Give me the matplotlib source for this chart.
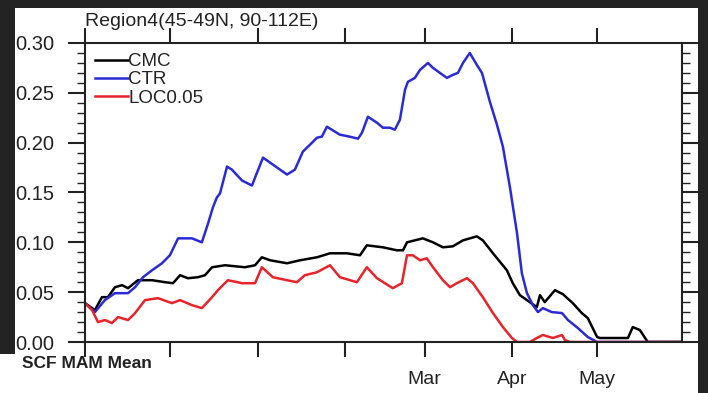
import matplotlib
matplotlib.use("Agg")
import matplotlib.pyplot as plt
from matplotlib.patches import Rectangle
from matplotlib.ticker import MultipleLocator

plt.rcParams["font.family"] = ["Liberation Sans", "DejaVu Sans"]

# days counted from 1 Nov, snow cover fraction
cmc_day = [0, 3.5, 6, 8.1, 10.6, 13.1, 15.2, 18.7, 23.7, 28.3, 31.1, 33.6, 36.4, 39.9,
           42.4, 44.9, 49.5, 56.5, 60.1, 62.5, 65.4, 71.4, 76, 82, 86.6, 92.6, 97.2,
           99.6, 105.3, 110.2, 112.4, 113.8, 119.4, 123, 126.5, 130, 133.6, 138.5,
           140.6, 144.2, 149.1, 151.2, 153.7, 157.2, 159.7, 160.8, 162.5, 166.1,
           168.9, 172.4, 175.6, 177.7, 181, 182, 191.9, 193.6, 196.1, 198.9, 211]
cmc_val = [0.039, 0.032, 0.045, 0.045, 0.055, 0.057, 0.054, 0.062, 0.062, 0.060, 0.059,
           0.067, 0.064, 0.065, 0.067, 0.075, 0.077, 0.075, 0.077, 0.085, 0.082, 0.079,
           0.082, 0.085, 0.089, 0.089, 0.087, 0.097, 0.095, 0.092, 0.092, 0.100, 0.104,
           0.100, 0.095, 0.096, 0.102, 0.106, 0.102, 0.089, 0.072, 0.059, 0.047, 0.040,
           0.035, 0.047, 0.040, 0.052, 0.048, 0.039, 0.029, 0.024, 0.005, 0.004, 0.004,
           0.015, 0.012, 0.0, 0.0]

ctr_day = [0, 3.5, 7, 10.6, 15.2, 17.7, 20.5, 23.7, 27.2, 30, 32.9, 37.8, 41.3, 43.5,
           45.2, 46.6, 47.7, 50.2, 51.9, 55.5, 59, 62.9, 66.4, 71.4, 74.2, 77, 78.8,
           80.6, 82, 83.7, 85.5, 90.1, 93.6, 96.5, 97.9, 100, 103.2, 105.3, 107.8,
           109.5, 111.3, 113.1, 114.1, 116.6, 118.4, 121.2, 123, 127.9, 130, 131.8,
           133.6, 136, 138.5, 140.3, 143.1, 145.6, 147.7, 150.2, 152.7, 154.4, 156.2,
           158.3, 160.1, 161.8, 165, 168.6, 170.7, 174.2, 177.7, 181, 211]
ctr_val = [0.039, 0.030, 0.042, 0.049, 0.049, 0.055, 0.065, 0.072, 0.079, 0.087, 0.104,
           0.104, 0.100, 0.119, 0.135, 0.145, 0.149, 0.176, 0.173, 0.162, 0.157, 0.185,
           0.178, 0.168, 0.173, 0.191, 0.196, 0.201, 0.205, 0.206, 0.216, 0.208, 0.206,
           0.204, 0.210, 0.226, 0.220, 0.215, 0.215, 0.213, 0.223, 0.253, 0.261, 0.265,
           0.273, 0.280, 0.275, 0.265, 0.268, 0.270, 0.280, 0.290, 0.278, 0.270, 0.241,
           0.218, 0.196, 0.155, 0.109, 0.069, 0.049, 0.037, 0.030, 0.034, 0.030, 0.029,
           0.022, 0.014, 0.005, 0.0, 0.0]

loc_day = [0, 2.5, 4.6, 7.1, 9.5, 11.7, 15.2, 17.7, 21.2, 25.8, 30.7, 33.6, 37.8, 41.3,
           44.9, 47, 50.5, 55.5, 60.1, 62.5, 66.4, 71.4, 74.9, 77.7, 82, 86.6, 90.1,
           96.1, 99.6, 103.2, 108.8, 112, 113.8, 115.9, 118.4, 120.8, 123, 126.5, 129,
           131.4, 135, 137.1, 140.6, 144.2, 147.7, 150.9, 152.7, 157.2, 159.7, 161.8,
           165.4, 168.6, 169.6, 171.4, 211]
loc_val = [0.039, 0.032, 0.020, 0.022, 0.019, 0.025, 0.022, 0.029, 0.042, 0.044, 0.039,
           0.042, 0.037, 0.034, 0.045, 0.052, 0.062, 0.059, 0.059, 0.075, 0.065, 0.062,
           0.060, 0.067, 0.070, 0.077, 0.065, 0.060, 0.075, 0.064, 0.054, 0.059, 0.087,
           0.087, 0.082, 0.084, 0.075, 0.062, 0.055, 0.059, 0.064, 0.059, 0.045, 0.029,
           0.015, 0.004, 0.0, 0.0, 0.004, 0.007, 0.004, 0.007, 0.002, 0.0, 0.0]

# first day of each month from Nov to May
month_starts = [0, 30, 61, 92, 120, 151, 181]
month_labels = ["", "", "", "", "Mar", "Apr", "May"]

fig = plt.figure(figsize=(7.08, 3.93), dpi=100, facecolor="white")
ax = fig.add_axes([85 / 708, 1 - 342 / 393, 597 / 708, 299 / 393])

ax.plot(cmc_day, cmc_val, color="black", lw=1.8, label="CMC")
ax.plot(ctr_day, ctr_val, color="#2a2ad6", lw=1.8, label="CTR")
ax.plot(loc_day, loc_val, color="#e8232a", lw=1.8, label="LOC0.05")

ax.set_xlim(0, 211)
ax.set_ylim(0, 0.30)
ax.set_xticks(month_starts)
ax.set_xticklabels(month_labels)
ax.yaxis.set_major_locator(MultipleLocator(0.05))
ax.yaxis.set_minor_locator(MultipleLocator(0.01))
ax.yaxis.set_major_formatter(lambda v, p: f"{v:.2f}")

ax.tick_params(axis="x", which="major", direction="out", top=True, bottom=True,
               length=11, width=1.5, pad=10, labelsize=14, colors="#222222")
ax.tick_params(axis="y", which="major", direction="out", left=True, right=True,
               length=12, width=1.5, pad=10, labelsize=14.5, colors="#222222")
ax.tick_params(axis="y", which="minor", direction="out", left=True, right=True,
               length=6, width=1.0, colors="#222222")
for s in ax.spines.values():
    s.set_linewidth(1.5)
    s.set_color("#222222")

ax.text(0.0, 1.058, "Region4(45-49N, 90-112E)", transform=ax.transAxes,
        ha="left", va="baseline", fontsize=14, color="#222222")

leg = ax.legend(loc="upper left", frameon=False, fontsize=13.5, handlelength=1.75,
                handletextpad=0.0, labelspacing=0.05, borderaxespad=0.45,
                borderpad=0.1)
for t in leg.get_texts():
    t.set_color("#222222")

fig.text(22 / 708, 1 - 368 / 393, "SCF MAM Mean", fontsize=12.5, fontweight="bold",
         color="#222222", ha="left", va="baseline")

# dark frame around the figure
dark = "#232323"
for x0, y0, w, h in [(0, 385, 708, 8), (0, 39, 15, 354), (698, 0, 10, 393)]:
    fig.add_artist(Rectangle((x0 / 708, y0 / 393), w / 708, h / 393,
                             transform=fig.transFigure, color=dark, lw=0, zorder=5))

fig.savefig("out.png", dpi=100, facecolor="white")
